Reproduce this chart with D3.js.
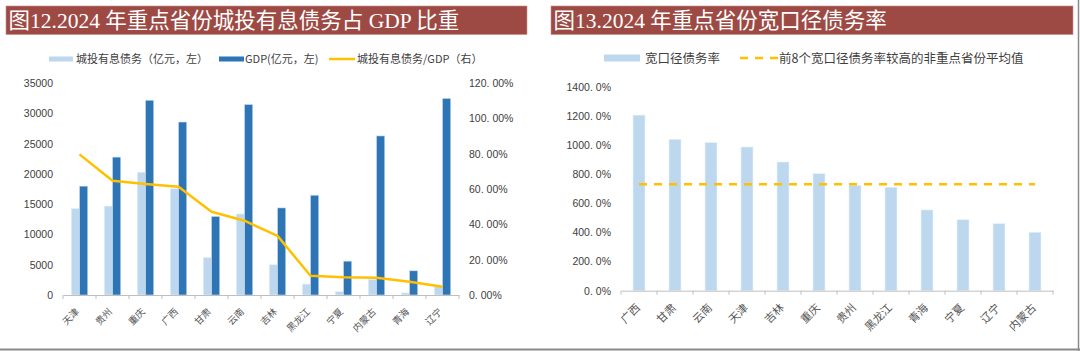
<!DOCTYPE html>
<html><head><meta charset="utf-8">
<script src="https://cdn.jsdelivr.net/npm/d3@7/dist/d3.min.js"></script>
<style>
html,body{margin:0;padding:0;background:#fff;}
svg{display:block;}
.cjk{font-family:"Noto Sans CJK SC","Noto Sans",sans-serif;}
.num{font-family:"Liberation Sans",Arial,sans-serif;}
.title{font-family:"Liberation Serif","Noto Sans CJK SC",serif;}
</style></head>
<body>
<svg id="c" width="1080" height="351"></svg>
<script>
// ---- data: chart 1 ----
const cats1 = ['天津','贵州','重庆','广西','甘肃','云南','吉林','黑龙江','宁夏','内蒙古','青海','辽宁'];
const debt1 = [14300,14700,20300,17600,6200,13400,5000,1800,550,2600,350,1400];
const gdp1  = [18000,22800,32200,28600,13000,31500,14400,16500,5600,26300,4000,32500];
const ratio1 = [79.7,64.8,62.9,61.4,47.2,42.1,33.5,10.9,10.0,9.8,7.5,4.7];
const leftTicks1 = [0,5000,10000,15000,20000,25000,30000,35000];
const rightTicks1 = [0,20,40,60,80,100,120];
const title1 = '图12.2024 年重点省份城投有息债务占 GDP 比重';
const legend1 = ['城投有息债务（亿元，左）','GDP(亿元，左)','城投有息债务/GDP（右）'];
// ---- data: chart 2 ----
const cats2 = ['广西','甘肃','云南','天津','吉林','重庆','贵州','黑龙江','青海','宁夏','辽宁','内蒙古'];
const rate2 = [1205,1039,1016,986,883,803,723,710,554,487,460,401];
const avg2 = 730;
const ticks2 = [0,200,400,600,800,1000,1200,1400];
const title2 = '图13.2024 年重点省份宽口径债务率';
const legend2 = ['宽口径债务率','前8个宽口径债务率较高的非重点省份平均值'];

const C_LIGHT = '#BDD7EE', C_DARK = '#2E75B6', C_YEL = '#FFC000', C_TITLE = '#9E4A44';
const TXT = '#404040', AX = '#BFBFBF';

const svg = d3.select('#c');

// frame lines
svg.append('line').attr('x1',1078.5).attr('x2',1078.5).attr('y1',0).attr('y2',351).attr('stroke','#8a8a8a').attr('stroke-width',1.5);
svg.append('line').attr('x1',0).attr('x2',1080).attr('y1',349.5).attr('y2',349.5).attr('stroke','#8a8a8a').attr('stroke-width',2);

// title bars
function titleBar(x0,x1,text){
  svg.append('rect').attr('x',x0).attr('y',6).attr('width',x1-x0).attr('height',28.5)
    .attr('fill',C_TITLE).attr('stroke','#c9908a').attr('stroke-width',0.6);
  svg.append('text').attr('class','title').attr('x',x0+2.5).attr('y',28)
    .attr('fill','#fff').attr('font-size',21.5).text(text);
}
titleBar(6,527,title1);
titleBar(551,1073,title2);

function pctLabel(sel, intPart, decPart){
  sel.text(null);
  sel.append('tspan').text(intPart+'.');
  sel.append('tspan').attr('dx',3).text(decPart+'%');
}

// ================= chart 1 =================
const base1 = 295, top1 = 83.3;
const x1 = d3.scaleBand().domain(cats1).range([63,459]).padding(0);
const y1 = d3.scaleLinear().domain([0,35000]).range([base1,top1]);
const y1r = d3.scaleLinear().domain([0,120]).range([base1,top1]);
const inner1 = d3.scaleBand().domain(['debt','gdp']).range([0,x1.bandwidth()]).paddingOuter(1).paddingInner(0);

const g1 = svg.append('g');
// bars
cats1.forEach((c,i)=>{
  g1.append('rect').attr('x',x1(c)+inner1('debt')).attr('width',inner1.bandwidth())
    .attr('y',y1(debt1[i])).attr('height',base1-y1(debt1[i]))
    .attr('fill',C_LIGHT).attr('stroke','#e6f0fa').attr('stroke-width',0.6);
  g1.append('rect').attr('x',x1(c)+inner1('gdp')).attr('width',inner1.bandwidth())
    .attr('y',y1(gdp1[i])).attr('height',base1-y1(gdp1[i]))
    .attr('fill',C_DARK).attr('stroke','#cfe0f0').attr('stroke-width',0.6);
});
// x axis
const xa1 = g1.append('g').attr('transform',`translate(0,${base1})`)
  .call(d3.axisBottom(x1).tickSize(0).tickFormat(''));
xa1.select('.domain').attr('stroke',AX);
const bounds1 = cats1.map(c=>x1(c)).concat([x1.range()[1]]);
bounds1.forEach(b=>g1.append('line').attr('x1',b).attr('x2',b).attr('y1',base1).attr('y2',base1+4).attr('stroke',AX));
cats1.forEach(c=>{
  const cx = x1(c)+x1.bandwidth()/2 - 2, cy = base1+15;
  g1.append('text').attr('class','cjk').attr('font-size',9.5).attr('fill','#555')
    .attr('text-anchor','end').attr('dy','0.35em')
    .attr('transform',`translate(${cx},${cy}) rotate(-45)`).text(c);
});
// left y axis
const ya1 = g1.append('g').attr('transform','translate(63,0)')
  .call(d3.axisLeft(y1).tickValues(leftTicks1).tickSize(0).tickPadding(10).tickFormat(d3.format('d')));
ya1.select('.domain').remove();
ya1.selectAll('text').attr('class','num').attr('font-size',10.5).attr('fill',TXT).attr('font-family','"Liberation Sans",Arial,sans-serif');
// right y axis
const yr1 = g1.append('g').attr('transform','translate(459,0)')
  .call(d3.axisRight(y1r).tickValues(rightTicks1).tickSize(0).tickPadding(10));
yr1.select('.domain').remove();
yr1.selectAll('text').attr('font-size',10.5).attr('fill',TXT).attr('font-family','"Liberation Sans",Arial,sans-serif')
  .each(function(d){ const s = d3.format('.2f')(d).split('.'); pctLabel(d3.select(this), s[0], s[1]); });
// line
const line1 = d3.line().x((d,i)=>x1(cats1[i])+x1.bandwidth()/2).y(d=>y1r(d));
g1.append('path').datum(ratio1).attr('d',line1).attr('fill','none').attr('stroke',C_YEL).attr('stroke-width',2.5).attr('stroke-linejoin','round');

// legend 1
const lg1 = svg.append('g').attr('class','cjk').attr('font-size',11).attr('fill',TXT);
const ly1 = 59;
lg1.append('rect').attr('x',49).attr('y',ly1-2.5).attr('width',24).attr('height',5).attr('fill',C_LIGHT);
lg1.append('text').attr('x',76).attr('y',ly1).attr('dy','0.36em').text(legend1[0]);
lg1.append('rect').attr('x',219).attr('y',ly1-2.5).attr('width',25).attr('height',5).attr('fill',C_DARK);
lg1.append('text').attr('x',245).attr('y',ly1).attr('dy','0.36em').text(legend1[1]);
lg1.append('line').attr('x1',329).attr('x2',355).attr('y1',ly1).attr('y2',ly1).attr('stroke',C_YEL).attr('stroke-width',2.5);
lg1.append('text').attr('x',357).attr('y',ly1).attr('dy','0.36em').text(legend1[2]);

// ================= chart 2 =================
const base2 = 290.7, top2 = 86.7;
const x2 = d3.scaleBand().domain(cats2).range([621,1053]).padding(0);
const y2 = d3.scaleLinear().domain([0,1400]).range([base2,top2]);
const g2 = svg.append('g');
const bw2 = x2.bandwidth()/3;
cats2.forEach((c,i)=>{
  g2.append('rect').attr('x',x2(c)+x2.bandwidth()/2-bw2/2).attr('width',bw2)
    .attr('y',y2(rate2[i])).attr('height',base2-y2(rate2[i]))
    .attr('fill',C_LIGHT).attr('stroke','#e6f0fa').attr('stroke-width',0.6);
});
const xa2 = g2.append('g').attr('transform',`translate(0,${base2})`)
  .call(d3.axisBottom(x2).tickSize(0).tickFormat(''));
xa2.select('.domain').attr('stroke',AX);
const bounds2 = cats2.map(c=>x2(c)).concat([x2.range()[1]]);
bounds2.forEach(b=>g2.append('line').attr('x1',b).attr('x2',b).attr('y1',base2).attr('y2',base2+4).attr('stroke',AX));
cats2.forEach(c=>{
  const cx = x2(c)+x2.bandwidth()/2 - 1, cy = base2+15;
  g2.append('text').attr('class','cjk').attr('font-size',11).attr('fill','#555')
    .attr('text-anchor','end').attr('dy','0.35em')
    .attr('transform',`translate(${cx},${cy}) rotate(-45)`).text(c);
});
const ya2 = g2.append('g').attr('transform','translate(621,0)')
  .call(d3.axisLeft(y2).tickValues(ticks2).tickSize(0).tickPadding(10));
ya2.select('.domain').remove();
ya2.selectAll('text').attr('font-size',10.5).attr('fill',TXT).attr('font-family','"Liberation Sans",Arial,sans-serif')
  .each(function(d){ pctLabel(d3.select(this), String(d), '0'); });
// average dashed line
g2.append('line').attr('x1',x2(cats2[0])+x2.bandwidth()/2).attr('x2',x2(cats2[cats2.length-1])+x2.bandwidth()/2)
  .attr('y1',y2(avg2)).attr('y2',y2(avg2)).attr('stroke',C_YEL).attr('stroke-width',2.5).attr('stroke-dasharray','8,7');

// legend 2
const lg2 = svg.append('g').attr('class','cjk').attr('font-size',12.5).attr('fill',TXT);
const ly2 = 58;
lg2.append('rect').attr('x',604).attr('y',ly2-3.5).attr('width',36).attr('height',7).attr('fill',C_LIGHT);
lg2.append('text').attr('x',645).attr('y',ly2).attr('dy','0.36em').text(legend2[0]);
lg2.append('line').attr('x1',740).attr('x2',778).attr('y1',ly2).attr('y2',ly2).attr('stroke',C_YEL).attr('stroke-width',2.5).attr('stroke-dasharray','8,7');
lg2.append('text').attr('x',779).attr('y',ly2).attr('dy','0.36em').text(legend2[1]);
</script>
</body></html>
